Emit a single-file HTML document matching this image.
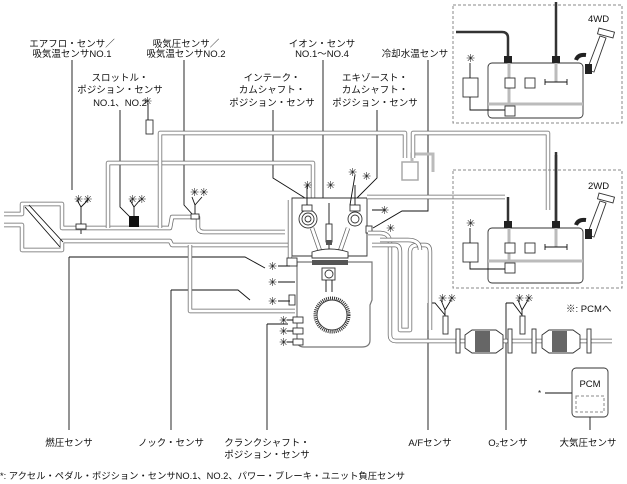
<!DOCTYPE html>
<html><head><meta charset="utf-8"><style>
html,body{margin:0;padding:0;background:#fff}
svg{display:block}
text{font-family:"Liberation Sans","Noto Sans CJK JP",sans-serif;font-size:9.5px;fill:#111}
.l{stroke:#111;stroke-width:0.9;fill:none}
.po{stroke:#666;stroke-width:4.4;fill:none;stroke-linejoin:round}
.pi{stroke:#fff;stroke-width:2.9;fill:none;stroke-linejoin:round}
.g{stroke:#bbb;stroke-width:3;fill:none}
.d{stroke:#888;stroke-width:1;fill:none;stroke-dasharray:3,2}
.b{stroke:#333;stroke-width:0.9;fill:#fff}
.a{font-size:11px}
</style></head><body>
<svg width="627" height="484" viewBox="0 0 627 484">
<g text-anchor="middle">
<text x="72" y="47">エアフロ・センサ／</text><text x="72" y="57">吸気温センサNO.1</text>
<text x="186" y="47">吸気圧センサ／</text><text x="186" y="57">吸気温センサNO.2</text>
<text x="322" y="47">イオン・センサ</text><text x="322" y="57">NO.1～NO.4</text>
<text x="415" y="57">冷却水温センサ</text>
<text x="120" y="81">スロットル・</text><text x="120" y="93">ポジション・センサ</text><text x="120" y="106">NO.1、NO.2</text>
<text x="272" y="81">インテーク・</text><text x="272" y="93">カムシャフト・</text><text x="272" y="106">ポジション・センサ</text>
<text x="375" y="81">エキゾースト・</text><text x="375" y="93">カムシャフト・</text><text x="375" y="106">ポジション・センサ</text>
<text x="69" y="446">燃圧センサ</text>
<text x="171" y="446">ノック・センサ</text>
<text x="267" y="446">クランクシャフト・</text><text x="267" y="458">ポジション・センサ</text>
<text x="430" y="446">A/Fセンサ</text>
<text x="508" y="446">O₂センサ</text>
<text x="588" y="446">大気圧センサ</text>
</g>
<text x="0" y="479" style="font-size:9.3px">*: アクセル・ペダル・ポジション・センサNO.1、NO.2、パワー・ブレーキ・ユニット負圧センサ</text>
<text x="566" y="312">※: PCMへ</text>
<text x="588" y="22">4WD</text><text x="588" y="189">2WD</text>

<path class="l" d="M72 60V190M120 110V207L133 220M184 60V205L193 215M323 60V198L330 205M273 110V178L305 198M377 110V178L355 200M428 60V211H402L373 228M69 257H245L265 268M69 257V430M171 290H238L250 300M171 290V430M267 324H288M267 324V430M428 303H435L445 315M428 303V430M506 303H513L522 315M506 303V430M590 412V430M545 393H572"/>

<path class="po" d="M4 214H22V204H62L62 228H170L172 217H198V227Q198 232 204 232H285"/>
<path class="pi" d="M4 214H22V204H62L62 228H170L172 217H198V227Q198 232 204 232H285"/>
<path class="po" d="M4 225H22V250H62V241H170L172 245H292"/>
<path class="pi" d="M4 225H22V250H62V241H170L172 245H292"/>
<path class="l" d="M25 207L60 247M29 205L63 242"/>
<path class="po" d="M108 228V163H313V198"/><path class="pi" d="M108 228V163H313V198"/>
<path class="po" d="M160 228V133H405V158"/><path class="pi" d="M160 228V133H405V158"/>
<path class="po" d="M190 245V311H295"/><path class="pi" d="M190 245V311H295"/>
<rect x="146" y="120" width="7" height="14" class="b"/>
<path class="l" d="M148 103V120"/>
<text x="143" y="105" class="a">✳</text>
<rect x="402" y="162" width="16" height="18" fill="#fff" stroke="#aaa" stroke-width="1.5"/>
<path class="g" d="M412 162V154H433V172"/>
<path class="po" d="M413 158V133H548V210"/><path class="pi" d="M413 158V133H548V210"/>
<path d="M556 152V222" stroke="#333" stroke-width="2.5"/>

<rect x="76" y="224" width="10" height="5" class="b"/><path class="l" d="M81 230V234"/>
<rect x="129" y="216" width="10" height="11" fill="#111"/>
<rect x="191" y="214" width="8" height="5" class="b"/>
<path class="l" d="M81 224V207L77 200M81 207L88 200M134 216V207L130 200M134 207L140 200M195 214V205L192 197M195 205L202 197"/>
<text x="74" y="203" class="a">✳✳</text>
<text x="128" y="203" class="a">✳✳</text>
<text x="190" y="196" class="a">✳✳</text>

<path class="b" d="M292 198H367V256H292Z" stroke="#777"/>
<path class="po" d="M290 200V258"/><path class="pi" d="M290 200V258"/>
<circle cx="308" cy="219" r="9" class="b"/><circle cx="308" cy="219" r="6" class="b"/><circle cx="308" cy="219" r="3" class="b"/>
<circle cx="355" cy="219" r="7" class="b"/><circle cx="355" cy="219" r="4" class="b"/>
<path class="po" d="M312 228L320 251M348 228L340 251"/><path class="pi" d="M312 228L320 251M348 228L340 251"/>
<path class="l" d="M329 203V255"/><rect x="326" y="224" width="6" height="18" class="b"/><rect x="326" y="240" width="6" height="5" fill="#555"/>
<rect x="302" y="205" width="10" height="6" class="b"/><rect x="350" y="205" width="10" height="6" class="b"/>
<path class="l" d="M307 205V185M355 205V185M350 205L355 175M372 210H385"/>
<text x="303" y="189" class="a">✳</text><text x="326" y="189" class="a">✳</text><text x="348" y="176" class="a">✳</text><text x="362" y="180" class="a">✳</text><text x="380" y="214" class="a">✳</text><text x="386" y="232" class="a">✳</text>
<rect x="366" y="226" width="6" height="7" class="b"/>
<path d="M297 262H372V300L370 305V340Q370 347 362 347H304Q297 347 297 340Z" fill="#fff" stroke="#777" stroke-width="1.2"/>
<path class="b" d="M312 252Q330 246 348 252V258H312Z"/>
<rect x="312" y="260" width="36" height="5" fill="#555"/>
<rect x="322" y="268" width="13" height="12" class="b"/><circle cx="329" cy="274" r="4" class="b"/>
<path class="l" d="M326 280V292M332 280V292"/>
<circle cx="332" cy="315" r="17" fill="#fff" stroke="#333" stroke-width="3" stroke-dasharray="1,1"/>
<circle cx="332" cy="315" r="15" class="b"/>
<rect x="287" y="258" width="10" height="8" class="b"/>
<rect x="289" y="295" width="6" height="10" class="b"/>
<rect x="293" y="317" width="10" height="6" class="b"/><rect x="293" y="328" width="10" height="6" class="b"/><rect x="293" y="339" width="10" height="6" class="b"/>
<path class="l" d="M278 266H290M278 282H295M278 301H290M287 320H293M287 331H293M287 342H293"/>
<text x="268" y="270" class="a">✳</text><text x="268" y="286" class="a">✳</text><text x="268" y="305" class="a">✳</text><text x="279" y="324" class="a">✳</text><text x="279" y="335" class="a">✳</text><text x="279" y="346" class="a">✳</text>

<path class="po" d="M368 233H380Q390 233 390 243V335Q390 341 396 341H612" stroke-width="16"/>
<path class="pi" d="M368 233H380Q390 233 390 243V335Q390 341 396 341H612" stroke-width="14.4"/>
<path class="po" d="M372 245H395Q400 245 400 252V330H410V252Q410 245 418 245H425Q430 245 430 252V330"/>
<path class="pi" d="M372 245H395Q400 245 400 252V330H410V252Q410 245 418 245H425Q430 245 430 252V330"/>
<path class="po" d="M380 240H408Q420 240 420 250"/><path class="pi" d="M380 240H408Q420 240 420 250"/>
<path class="b" d="M465 335L472 330H496L503 335V348L496 353H472L465 348Z"/><rect x="475" y="331" width="15" height="21" fill="#666"/>
<path class="b" d="M542 335L549 330H573L580 335V348L573 353H549L542 348Z"/><rect x="552" y="331" width="15" height="21" fill="#666"/>
<g class="b"><rect x="456" y="329" width="4" height="24"/><rect x="508" y="329" width="4" height="24"/><rect x="532" y="329" width="4" height="24"/><rect x="587" y="329" width="4" height="24"/></g>
<rect x="443" y="316" width="5" height="18" class="b"/><rect x="520" y="316" width="5" height="18" class="b"/>
<path class="l" d="M445 316V310L441 300M445 310L451 300M522 316V310L518 300M522 310L528 300"/>
<text x="438" y="302" class="a">✳✳</text><text x="515" y="302" class="a">✳✳</text>

<path class="po" d="M367 197H505"/><path class="pi" d="M367 197H505"/>

<rect x="453" y="5" width="169" height="118" class="d"/>
<rect x="453" y="170" width="169" height="118" class="d"/>
<g>
<rect x="488" y="63" width="95" height="55" rx="4" class="b" stroke="#555"/>
<rect x="463" y="78" width="15" height="19" class="b"/>
<path class="g" d="M509 63V115M556 63V82M488 104H583"/>
<rect x="505" y="78" width="10" height="10" class="b"/><rect x="525" y="78" width="10" height="10" class="b"/><rect x="505" y="106" width="10" height="10" class="b"/>
<path class="l" d="M470 63V78M470 97V110H505M545 82H567M545 79V85M567 79V85"/>
<text x="466" y="62" class="a">✳</text>
<path d="M456 32H502Q508 32 508 38V57M556 2V57" stroke="#333" stroke-width="2.5" fill="none"/>
<rect x="504" y="56" width="8" height="7" fill="#222"/><rect x="552" y="56" width="8" height="7" fill="#222"/>
<path class="b" d="M587 70L600 36L606 38L594 72Z"/><rect x="598" y="30" width="16" height="6" class="b" transform="rotate(15 606 33)"/>
<path d="M576 60Q578 54 586 55" stroke="#222" stroke-width="4" fill="none"/>
<rect x="585" y="64" width="7" height="10" fill="#222"/>
</g>
<g transform="translate(0,165)">
<rect x="488" y="63" width="95" height="55" rx="4" class="b" stroke="#555"/>
<rect x="463" y="78" width="15" height="19" class="b"/>
<path class="g" d="M509 63V105M556 63V82M488 96H583"/>
<rect x="505" y="78" width="10" height="10" class="b"/><rect x="525" y="78" width="10" height="10" class="b"/><rect x="505" y="98" width="10" height="10" class="b"/>
<path class="l" d="M470 63V78M470 97V104H505M545 82H567M545 79V85M567 79V85"/>
<text x="466" y="62" class="a">✳</text>
<path d="M508 32V57M556 -10V57" stroke="#333" stroke-width="2.5" fill="none"/>
<rect x="504" y="56" width="8" height="7" fill="#222"/><rect x="552" y="56" width="8" height="7" fill="#222"/>
<path class="b" d="M587 70L600 36L606 38L594 72Z"/><rect x="598" y="30" width="16" height="6" class="b" transform="rotate(15 606 33)"/>
<path d="M576 60Q578 54 586 55" stroke="#222" stroke-width="4" fill="none"/>
<rect x="585" y="64" width="7" height="10" fill="#222"/>
</g>

<rect x="572" y="368" width="36" height="49" rx="4" class="b" stroke="#555"/>
<text x="590" y="387" text-anchor="middle">PCM</text>
<rect x="576" y="396" width="28" height="16" class="d"/>
<text x="538" y="396" style="font-size:8px">*</text>
</svg>
</body></html>
